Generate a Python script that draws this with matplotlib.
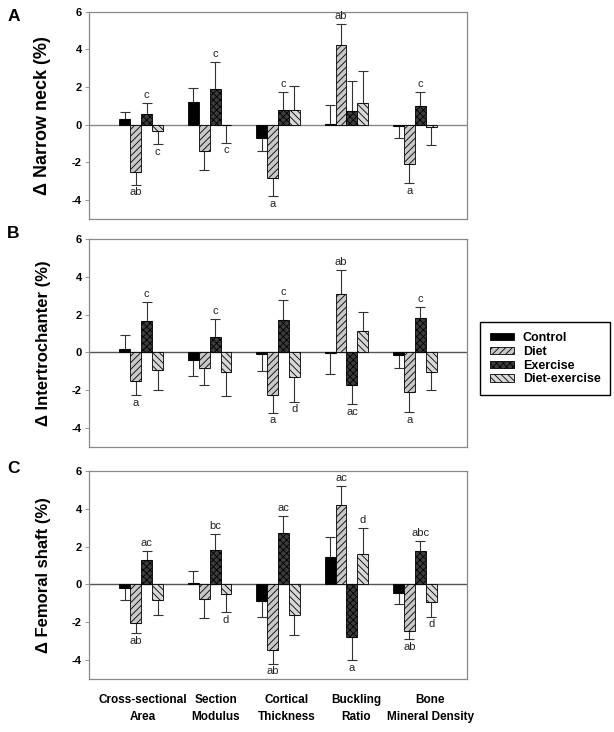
import matplotlib
matplotlib.use("Agg")
import matplotlib.pyplot as plt
import matplotlib.transforms as mtransforms
import numpy as np

plt.rcParams['font.family'] = ['Liberation Sans', 'DejaVu Sans']
plt.rcParams['hatch.linewidth'] = 0.6

# categories and groups
categories = ["Cross-sectional\nArea", "Section\nModulus", "Cortical\nThickness",
              "Buckling\nRatio", "Bone\nMineral Density"]
groups = ["Control", "Diet", "Exercise", "Diet-exercise"]
panel_ids = ["A", "B", "C"]
ylabels = ["Δ Narrow neck (%)", "Δ Intertrochanter (%)", "Δ Femoral shaft (%)"]
yticks = [-4, -2, 0, 2, 4, 6]

# A - narrow neck: mean % change and SE
a_control = [0.30, 1.20, -0.70, 0.03, -0.07]
a_diet = [-2.52, -1.41, -2.82, 4.22, -2.08]
a_exercise = [0.58, 1.89, 0.81, 0.71, 1.00]
a_dietex = [-0.35, -0.02, 0.78, 1.15, -0.12]
a_control_se = [0.37, 0.77, 0.70, 1.00, 0.63]
a_diet_se = [0.65, 0.99, 0.97, 1.14, 1.01]
a_exercise_se = [0.57, 1.43, 0.94, 1.60, 0.76]
a_dietex_se = [0.69, 0.93, 1.27, 1.71, 0.93]
a_diet_sig = ["ab", "", "a", "ab", "a"]
a_exercise_sig = ["c", "c", "c", "", "c"]
a_dietex_sig = ["c", "c", "", "", ""]

# B - intertrochanter
b_control = [0.16, -0.42, -0.08, -0.05, -0.15]
b_diet = [-1.49, -0.84, -2.25, 3.10, -2.10]
b_exercise = [1.65, 0.81, 1.70, -1.70, 1.82]
b_dietex = [-0.91, -1.05, -1.30, 1.16, -1.05]
b_control_se = [0.79, 0.83, 0.92, 1.07, 0.69]
b_diet_se = [0.76, 0.90, 0.93, 1.25, 1.04]
b_exercise_se = [1.03, 0.98, 1.09, 1.04, 0.60]
b_dietex_se = [1.09, 1.27, 1.30, 0.98, 0.95]
b_diet_sig = ["a", "", "a", "ab", "a"]
b_exercise_sig = ["c", "c", "c", "ac", "c"]
b_dietex_sig = ["", "", "d", "", ""]

# C - femoral shaft
c_control = [-0.21, 0.08, -0.90, 1.43, -0.46]
c_diet = [-2.05, -0.76, -3.47, 4.19, -2.44]
c_exercise = [1.27, 1.82, 2.71, -2.80, 1.79]
c_dietex = [-0.81, -0.53, -1.59, 1.59, -0.92]
c_control_se = [0.59, 0.65, 0.80, 1.10, 0.60]
c_diet_se = [0.52, 0.99, 0.72, 1.03, 0.46]
c_exercise_se = [0.52, 0.85, 0.92, 1.22, 0.51]
c_dietex_se = [0.78, 0.94, 1.10, 1.40, 0.78]
c_diet_sig = ["ab", "", "ab", "ac", "ab"]
c_exercise_sig = ["ac", "bc", "ac", "a", "abc"]
c_dietex_sig = ["", "d", "", "d", "d"]

no_sig = ["", "", "", "", ""]

panels = [
    ([a_control, a_diet, a_exercise, a_dietex],
     [a_control_se, a_diet_se, a_exercise_se, a_dietex_se],
     [no_sig, a_diet_sig, a_exercise_sig, a_dietex_sig]),
    ([b_control, b_diet, b_exercise, b_dietex],
     [b_control_se, b_diet_se, b_exercise_se, b_dietex_se],
     [no_sig, b_diet_sig, b_exercise_sig, b_dietex_sig]),
    ([c_control, c_diet, c_exercise, c_dietex],
     [c_control_se, c_diet_se, c_exercise_se, c_dietex_se],
     [no_sig, c_diet_sig, c_exercise_sig, c_dietex_sig]),
]

faces = ["black", "#c8c8c8", "#3c3c3c", "#d8d8d8"]
hatches = [None, "/////", "xxxxx", "\\\\\\\\\\"]
width = 0.16
x = np.arange(len(categories))
label_x = [0.03, 1.09, 2.13, 3.14, 4.22]
ylabel_sizes = [13, 12, 12]

fig = plt.figure(figsize=(6.14, 7.32), dpi=100)
axes_rects = [(0.145, 0.7008, 0.6156, 0.2832),
              (0.145, 0.3893, 0.6156, 0.2842),
              (0.145, 0.0724, 0.6156, 0.2842)]
letter_y = [0.988, 0.691, 0.37]

for p, (means, ses, sigs) in enumerate(panels):
    ax = fig.add_axes(axes_rects[p])
    for g in range(4):
        m = np.array(means[g])
        s = np.array(ses[g])
        pos = x + (g - 1.5) * width
        up = np.where(m >= 0, s, 0)
        down = np.where(m < 0, s, 0)
        ax.errorbar(pos, m, yerr=[down, up], fmt="none", ecolor="#333333",
                    elinewidth=0.8, capsize=3.5, capthick=0.8, zorder=2)
        ax.bar(pos, m, width, color=faces[g], edgecolor="black", linewidth=0.6,
               hatch=hatches[g], label=groups[g], zorder=3)
        for i in range(len(categories)):
            if sigs[g][i]:
                if m[i] >= 0:
                    ax.annotate(sigs[g][i], (pos[i], m[i] + s[i]), xytext=(0, 2),
                                textcoords="offset points", ha="center", va="bottom",
                                fontsize=8, color="#222222")
                else:
                    ax.annotate(sigs[g][i], (pos[i], m[i] - s[i]), xytext=(0, -2),
                                textcoords="offset points", ha="center", va="top",
                                fontsize=8, color="#222222")
    ax.axhline(0, color="#555555" if p else "#888888", lw=1.0, zorder=1)
    ax.set_xlim(-0.76, 4.76)
    ax.set_ylim(-5, 6)
    ax.set_yticks(yticks)
    ax.set_yticklabels([str(t) for t in yticks], fontweight="bold", fontsize=8)
    ax.tick_params(axis="y", length=3, width=0.6, color="#888888", pad=2)
    ax.set_xticks([])
    for sp in ax.spines.values():
        sp.set_color("#888888")
        sp.set_linewidth(0.9)
    ax.set_ylabel(ylabels[p], fontsize=ylabel_sizes[p], fontweight="bold")
    ax.yaxis.set_label_coords(-0.1, 0.5)
    fig.text(0.012, letter_y[p], panel_ids[p], fontsize=12.5, fontweight="bold",
             va="top", ha="left")
    if p == 2:
        trans = mtransforms.blended_transform_factory(ax.transData, ax.transAxes)
        for i, cat in enumerate(categories):
            ax.text(label_x[i], -0.14, cat, transform=trans, ha="center", va="center",
                    multialignment="center", fontsize=8.5, fontweight="bold",
                    linespacing=1.55)
    if p == 0:
        handles, labels = ax.get_legend_handles_labels()

fig.legend(handles, labels, loc="center left", bbox_to_anchor=(0.782, 0.51),
           fancybox=False, edgecolor="black", framealpha=1, prop={"weight": "bold", "size": 9},
           handlelength=1.9, handleheight=0.5, handletextpad=0.7, labelspacing=0.15,
           borderpad=0.8, borderaxespad=0)

fig.savefig("out.png", dpi=100)
